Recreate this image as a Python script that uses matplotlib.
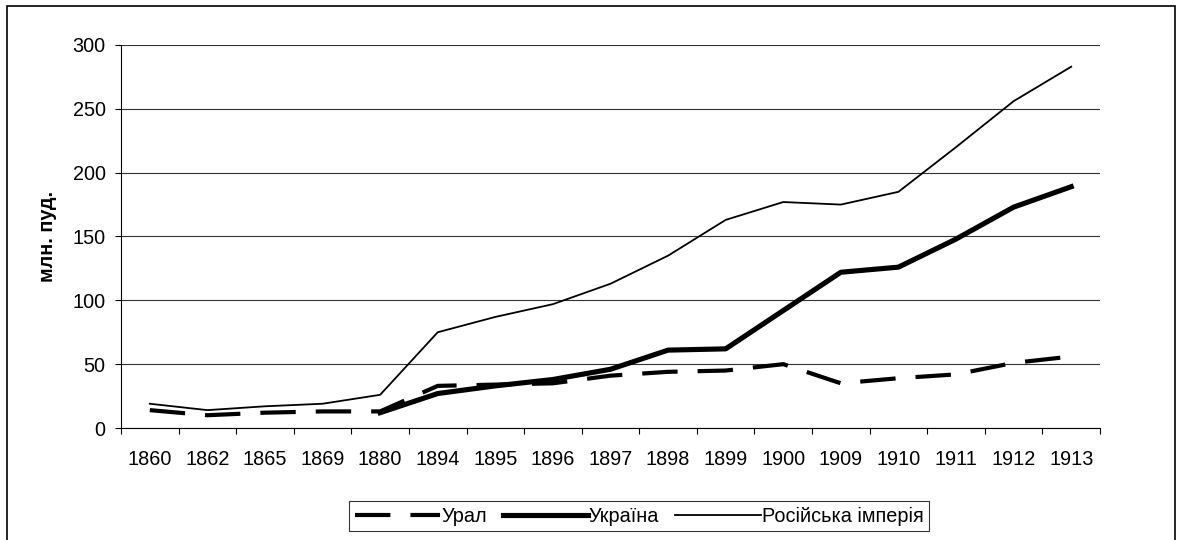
import matplotlib
matplotlib.use("Agg")
import matplotlib.pyplot as plt
from matplotlib.patches import Rectangle
import numpy as np

years = ["1860", "1862", "1865", "1869", "1880", "1894", "1895", "1896", "1897",
         "1898", "1899", "1900", "1909", "1910", "1911", "1912", "1913"]
ural = [14, 10, 12, 13, 13, 33, 34, 35, 41, 44, 45, 50, 35, 39, 42, 51, 56]
ukraine = [None, None, None, None, 12, 27, 33, 38, 46, 61, 62, 92, 122, 126, 148, 173, 189]
russia = [19, 14, 17, 19, 26, 75, 87, 97, 113, 135, 163, 177, 175, 185, 220, 256, 283]

plt.rcParams['font.family'] = ['Liberation Sans', 'DejaVu Sans']
FS = 14.3

fig = plt.figure(figsize=(11.79, 5.40), dpi=100)
ax = fig.add_axes([121 / 1179, 1 - 428 / 540, 979 / 1179, 383 / 540])

x = np.arange(len(years))
uk = np.array([np.nan if v is None else v for v in ukraine], dtype=float)

l1, = ax.plot(x, ural, color='black', lw=3.0, ls=(0, (8.5, 4.8)), dash_capstyle='butt', label='Урал', zorder=4)
l2, = ax.plot(x, uk, color='black', lw=3.7, label='Україна', zorder=3)
l3, = ax.plot(x, russia, color='black', lw=1.3, label='Російська імперія', zorder=3)

ax.set_xlim(-0.5, len(years) - 0.5)
ax.set_ylim(0, 300)
ax.set_yticks(range(0, 301, 50))
ax.yaxis.grid(True, color='#333333', lw=0.8)
ax.set_axisbelow(True)
ax.set_xticks(x)
ax.set_xticklabels(years)
ax.set_xticks(np.arange(-0.5, len(years), 1), minor=True)
ax.tick_params(axis='x', which='major', length=0, pad=16, labelsize=FS)
ax.tick_params(axis='x', which='minor', length=4, width=0.8, direction='out')
ax.tick_params(axis='y', length=4, width=0.8, direction='out', labelsize=FS, pad=7)
for s in ['top', 'right']:
    ax.spines[s].set_visible(False)
ax.spines['left'].set_linewidth(0.8)
ax.spines['bottom'].set_linewidth(0.8)

ax.set_ylabel('млн. пуд.', fontsize=FS, fontweight='bold', labelpad=11)

leg = fig.legend(handles=[l1, l2, l3], loc='center', bbox_to_anchor=(639 / 1179, 1 - 516 / 540),
                 ncol=3, frameon=True, fancybox=False, edgecolor='black', fontsize=FS,
                 handlelength=4.3, handletextpad=0.05, columnspacing=0.8, borderpad=0.3,
                 borderaxespad=0)
leg.get_frame().set_linewidth(0.8)

fig.patches.append(Rectangle((7 / 1179, -10 / 540), 1168 / 1179, 544 / 540, transform=fig.transFigure,
                             fill=False, edgecolor='black', lw=1.2, clip_on=False))

fig.savefig('out.png', dpi=100)
